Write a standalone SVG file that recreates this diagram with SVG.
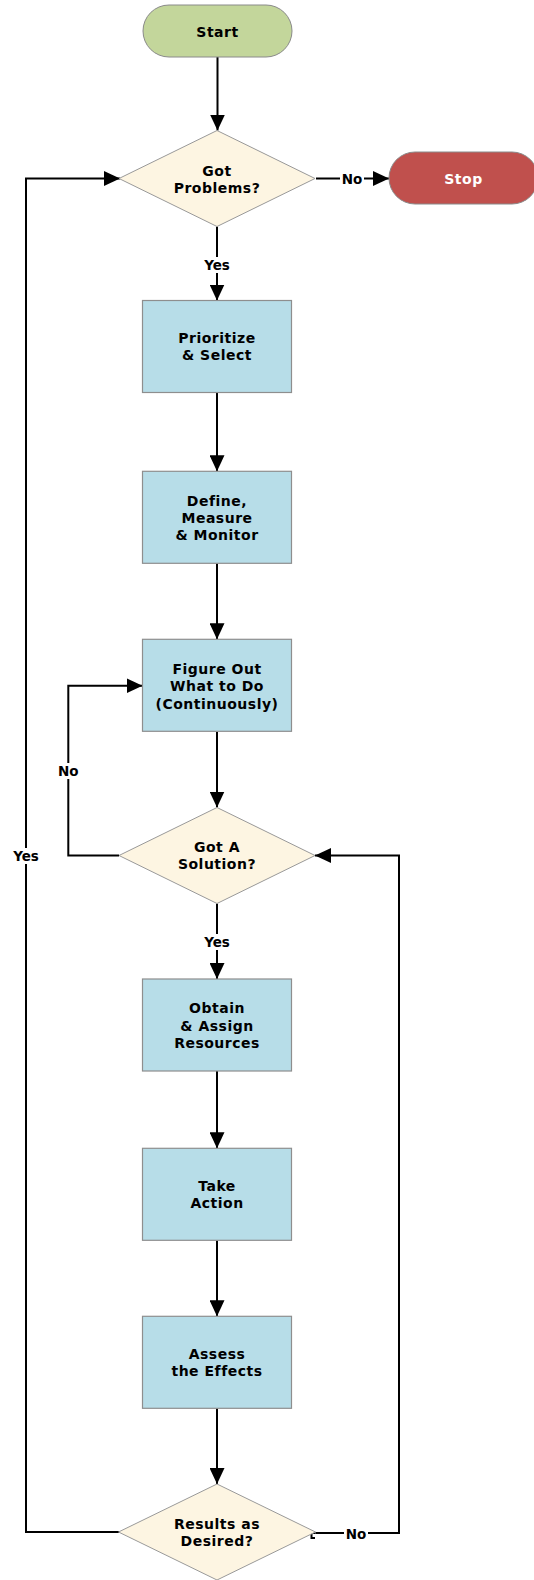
<svg xmlns="http://www.w3.org/2000/svg" width="534" height="1580" viewBox="0 0 534 1580">
<defs>
<marker id="arr" markerUnits="userSpaceOnUse" markerWidth="16" markerHeight="15" refX="16" refY="7.5" orient="auto">
<path d="M0,0 L16,7.5 L0,15 z" fill="#000"/>
</marker>
<style>
.t{font-family:"DejaVu Sans","Verdana",sans-serif;font-weight:bold;font-size:14px;letter-spacing:0.5px;fill:#000;text-anchor:middle}
.lb{font-family:"DejaVu Sans","Verdana",sans-serif;font-weight:bold;font-size:13.5px;fill:#000;text-anchor:middle}
.box{fill:#b7dde8;stroke:#8e8e8e;stroke-width:1.2}
.dia{fill:#fdf5e2;stroke:#999;stroke-width:1}
.c{fill:none;stroke:#000;stroke-width:2}
.ca{fill:none;stroke:#000;stroke-width:2;marker-end:url(#arr)}
.bg{fill:#fff}
</style>
</defs>
<rect width="534" height="1580" fill="#fff"/>
<g id="connectors">
<path class="ca" d="M217.5,57 V130.5"/>
<path class="ca" d="M316,178.5 H389"/>
<path class="ca" d="M217,226.5 V300.5"/>
<path class="ca" d="M217,392.5 V471.3"/>
<path class="ca" d="M217,563.3 V639.3"/>
<path class="ca" d="M217,731.7 V807.5"/>
<path class="ca" d="M119,855.5 H68.3 V685.7 H142.5"/>
<path class="ca" d="M217,903.5 V979"/>
<path class="ca" d="M217,1071 V1148.3"/>
<path class="ca" d="M217,1240.3 V1316.3"/>
<path class="ca" d="M217,1408.3 V1484"/>
<path class="ca" d="M119,1532 H26 V178.5 H120"/>
<path class="ca" d="M315.5,1533 H399 V855.5 H315"/>
<path class="c" d="M315.5,1533 H311.5 V1538 H315" stroke-width="1.8"/>
<rect class="bg" x="340" y="171" width="24" height="16"/>
<text class="lb" x="352" y="184">No</text>
<rect class="bg" x="202" y="257" width="30" height="16"/>
<text class="lb" x="217" y="269.5">Yes</text>
<rect class="bg" x="56" y="763" width="24" height="16"/>
<text class="lb" x="68.3" y="776">No</text>
<rect class="bg" x="202" y="934" width="30" height="16"/>
<text class="lb" x="217" y="946.5">Yes</text>
<rect class="bg" x="11" y="848" width="30" height="16"/>
<text class="lb" x="26" y="860.5">Yes</text>
<rect class="bg" x="344" y="1526" width="24" height="16"/>
<text class="lb" x="356" y="1539">No</text>
</g>
<g id="start">
<rect x="143" y="5" width="149" height="52" rx="26" ry="26" fill="#c3d69b" stroke="#8a8a8a" stroke-width="1"/>
<text class="t" x="217.5" y="36.5">Start</text>
</g>
<g id="stop">
<rect x="389" y="152" width="149" height="52" rx="26" ry="26" fill="#c0504d" stroke="#8a8a8a" stroke-width="1"/>
<text class="t" x="463.5" y="183.5" style="fill:#fff">Stop</text>
</g>
<g id="got-problems">
<polygon class="dia" points="217,130.5 315,178.5 217,226.5 119,178.5"/>
<text class="t" x="217" y="175.5">Got</text>
<text class="t" x="217" y="192.5">Problems?</text>
</g>
<g id="prioritize">
<rect class="box" x="142.5" y="300.5" width="149" height="92"/>
<text class="t" x="217" y="343">Prioritize</text>
<text class="t" x="217" y="360.3">&amp; Select</text>
</g>
<g id="define">
<rect class="box" x="142.5" y="471.3" width="149" height="92"/>
<text class="t" x="217" y="505.6">Define,</text>
<text class="t" x="217" y="522.9">Measure</text>
<text class="t" x="217" y="540.2">&amp; Monitor</text>
</g>
<g id="figure-out">
<rect class="box" x="142.5" y="639.3" width="149" height="92"/>
<text class="t" x="217" y="674">Figure Out</text>
<text class="t" x="217" y="691.3">What to Do</text>
<text class="t" x="217" y="708.6">(Continuously)</text>
</g>
<g id="got-solution">
<polygon class="dia" points="217,807.5 315,855.5 217,903.5 119,855.5"/>
<text class="t" x="217" y="852">Got A</text>
<text class="t" x="217" y="869.3">Solution?</text>
</g>
<g id="obtain">
<rect class="box" x="142.5" y="979" width="149" height="92"/>
<text class="t" x="217" y="1013.3">Obtain</text>
<text class="t" x="217" y="1030.6">&amp; Assign</text>
<text class="t" x="217" y="1047.9">Resources</text>
</g>
<g id="take-action">
<rect class="box" x="142.5" y="1148.3" width="149" height="92"/>
<text class="t" x="217" y="1191">Take</text>
<text class="t" x="217" y="1208.3">Action</text>
</g>
<g id="assess">
<rect class="box" x="142.5" y="1316.3" width="149" height="92"/>
<text class="t" x="217" y="1359">Assess</text>
<text class="t" x="217" y="1376.3">the Effects</text>
</g>
<g id="results">
<polygon class="dia" points="217,1484 315.5,1532 217,1580 118.5,1532"/>
<text class="t" x="217" y="1528.5">Results as</text>
<text class="t" x="217" y="1545.8">Desired?</text>
</g>
</svg>
